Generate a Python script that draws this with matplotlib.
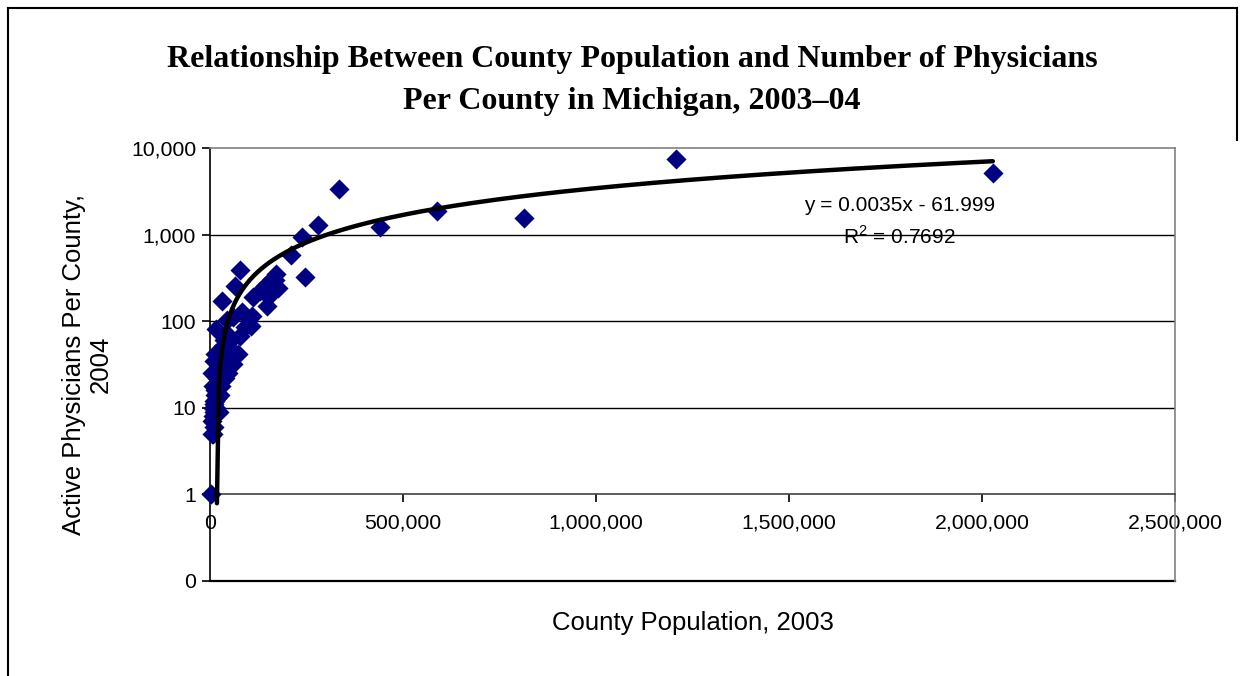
import matplotlib
matplotlib.use("Agg")
import matplotlib.pyplot as plt
import numpy as np
from matplotlib.lines import Line2D
from matplotlib.ticker import FixedLocator, FixedFormatter

# county population 2003 and active physicians 2004
population = [
    2028000, 1207000, 814000, 588000, 440000, 335000, 279000, 246000, 239000, 209000,
    176000, 172000, 168000, 162000, 159000, 155000, 148000, 142000, 138000, 129000,
    111000, 108000, 105000, 79000, 64000, 82000, 60000, 77500, 90000, 72000,
    60000, 43000, 43000, 31000, 16000,
    2300, 4500, 9000, 5500, 7000, 8700, 9400, 9800, 10400, 11500,
    12500, 13500, 14000, 15000, 16500, 17500, 18000, 19000, 20500, 21500,
    22500, 23500, 24500, 25500, 26000, 27000, 28000, 29000, 30000, 31500,
    33000, 34500, 36000, 37500, 39000, 40500, 42000, 44000, 46000, 48000,
    50000, 53000, 56000, 58000, 6000, 8000, 10000, 12000,
]
physicians = [
    5100, 7400, 1540, 1850, 1240, 3400, 1280, 320, 950, 575,
    240, 355, 300, 262, 296, 200, 148, 258, 225, 226,
    190, 115, 88, 393, 255, 127, 112, 68, 85, 42,
    32, 71, 102, 172, 82,
    1, 5, 5, 7, 10, 8, 12, 11, 9, 6,
    14, 12, 16, 10, 19, 13, 22, 15, 25, 17,
    28, 20, 9, 14, 32, 24, 38, 18, 45, 27,
    52, 30, 60, 35, 22, 42, 48, 33, 25, 58,
    40, 36, 45, 38, 25, 18, 35, 42,
]

x_ticks = [0, 500000, 1000000, 1500000, 2000000, 2500000]
x_tick_labels = ["0", "500,000", "1,000,000", "1,500,000", "2,000,000", "2,500,000"]
y_ticks = [0.1, 1, 10, 100, 1000, 10000]
y_tick_labels = ["0", "1", "10", "100", "1,000", "10,000"]

# linear trendline as shown on the chart
slope = 0.0035
intercept = -61.999

plt.rcParams["mathtext.fontset"] = "custom"
plt.rcParams["mathtext.rm"] = "Liberation Sans"

W, H = 1250, 676
fig = plt.figure(figsize=(12.5, 6.76), dpi=100)
ax = fig.add_axes([210 / W, 1 - 581 / H, 965 / W, 433 / H])

sans = "Liberation Sans"

ax.scatter(population, physicians, marker="D", s=105, color="#000080",
           linewidths=0, zorder=3, clip_on=False)

# trendline drawn from where it goes just under 1 to the largest county
x_start = (0.79 - intercept) / slope
x_trend = np.linspace(x_start, max(population), 400)
ax.plot(x_trend, slope * x_trend + intercept, color="black", lw=3.2, zorder=4,
        solid_capstyle="round", clip_on=False)

ax.set_yscale("log")
ax.set_ylim(0.1, 10000)
ax.set_xlim(0, 2500000)
ax.minorticks_off()
ax.yaxis.set_major_locator(FixedLocator(y_ticks))
ax.yaxis.set_major_formatter(FixedFormatter(y_tick_labels))
ax.xaxis.set_major_locator(FixedLocator(x_ticks))
ax.xaxis.set_major_formatter(FixedFormatter(x_tick_labels))

# gridlines
for v in [10, 100, 1000]:
    ax.axhline(v, color="black", lw=1, zorder=1)
ax.axhline(0.1, color="black", lw=1.6, zorder=2, clip_on=False)

# x axis crosses at 1
ax.spines["bottom"].set_position(("data", 1))
ax.spines["bottom"].set_color("#404040")
ax.spines["left"].set_color("black")
ax.spines["top"].set_color("#808080")
ax.spines["right"].set_color("#808080")
for s in ax.spines.values():
    s.set_linewidth(1.2)

ax.tick_params(axis="x", direction="out", length=6, width=1.2, pad=8,
               labelsize=15.3, colors="black")
ax.tick_params(axis="y", direction="out", length=6, width=1.2, pad=4,
               labelsize=15.3, colors="black")
for lab in ax.get_xticklabels() + ax.get_yticklabels():
    lab.set_fontfamily(sans)

ax.set_xlabel("County Population, 2003", fontsize=18.5, fontfamily=sans)
ax.xaxis.set_label_coords(0.5, -0.07)
ax.set_ylabel("Active Physicians Per County,\n2004", fontsize=18.5,
              fontfamily=sans, linespacing=1.15)
ax.yaxis.set_label_coords(-0.101, 0.5)

ax.text(0.715, 0.868, "y = 0.0035x - 61.999", transform=ax.transAxes,
        ha="center", va="center", fontsize=15, fontfamily=sans, zorder=5)
ax.text(0.714, 0.796, "R$^2$ = 0.7692", transform=ax.transAxes,
        ha="center", va="center", fontsize=15, fontfamily=sans, zorder=5)

# title
fig.text(632 / W, 1 - 60 / H, "Relationship Between County Population and Number of Physicians",
         ha="center", va="center", fontsize=23, fontweight="bold", fontfamily="Liberation Serif")
fig.text(632 / W, 1 - 102 / H, "Per County in Michigan, 2003\u201304",
         ha="center", va="center", fontsize=23, fontweight="bold", fontfamily="Liberation Serif")

# chart frame
fig.add_artist(Line2D([8 / W, 8 / W], [0, 1 - 8 / H], transform=fig.transFigure, color="black", lw=1.5))
fig.add_artist(Line2D([8 / W, 1237 / W], [1 - 8 / H, 1 - 8 / H], transform=fig.transFigure, color="black", lw=1.5))
fig.add_artist(Line2D([1237 / W, 1237 / W], [1 - 8 / H, 1 - 140 / H], transform=fig.transFigure, color="black", lw=1.5))

fig.savefig("out.png", dpi=100)
